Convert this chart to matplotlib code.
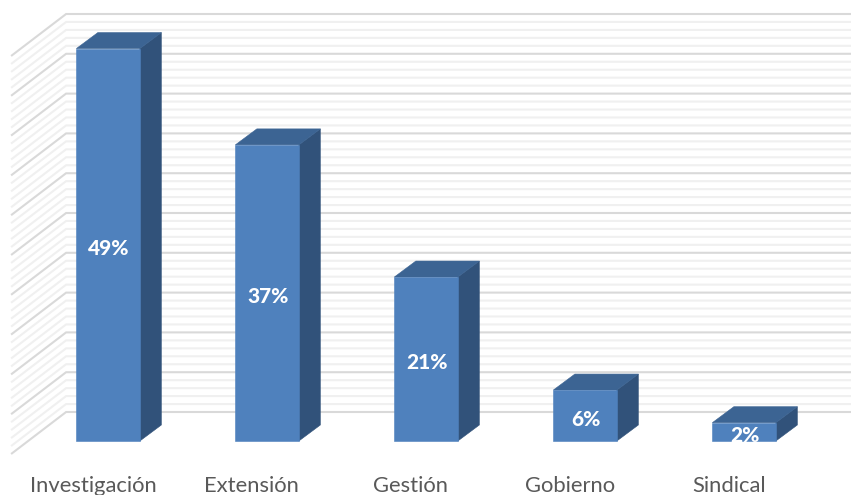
import matplotlib
matplotlib.use("Agg")
import matplotlib.pyplot as plt
from matplotlib.patches import Polygon
import numpy as np

categories = ["Investigación", "Extensión", "Gestión", "Gobierno", "Sindical"]
values = [49.3, 37.2, 20.6, 6.4, 2.3]
labels = ["49%", "37%", "21%", "6%", "2%"]
minor_ticks = list(range(0, 51))
major_step = 5

W, H = 851, 495
fig = plt.figure(figsize=(W / 100, H / 100), dpi=100, facecolor="white")
ax = fig.add_axes([0, 0, 1, 1])
# data scale: x in category units, y in percent
PX_X, PX_Y = 159.0, 7.96
X0, Y0 = 108.1, 441.0
ax.set_xlim(-X0 / PX_X, (W - X0) / PX_X)
ax.set_ylim(-(H - Y0) / PX_Y, Y0 / PX_Y)
ax.axis("off")

bar_w = 63.5 / PX_X
dx, dy = 21.5 / PX_X, 16.0 / PX_Y
wall_back_x, wall_front_x = -42.0 / PX_X, -97.0 / PX_X
wall_back_dy, wall_front_dy = 29.0 / PX_Y, -13.0 / PX_Y

for t in minor_ticks:
    major = t % major_step == 0
    c = "#D9D9D9" if major else "#F0F0F0"
    xs = [wall_front_x, wall_back_x, (W - X0) / PX_X]
    ys = [t + wall_front_dy, t + wall_back_dy, t + wall_back_dy]
    ax.plot(xs, ys, color=c, lw=1.5, solid_joinstyle="miter", solid_capstyle="butt",
            zorder=2 if major else 1)

for i, (v, lab, cat) in enumerate(zip(values, labels, categories)):
    l, r = i - bar_w / 2, i + bar_w / 2
    ax.add_patch(Polygon([(r, 0), (r + dx, dy), (r + dx, v + dy), (r, v)],
                         fc="#31527A", ec="#31527A", lw=0.4, zorder=3))
    ax.add_patch(Polygon([(l, v), (l + dx, v + dy), (r + dx, v + dy), (r, v)],
                         fc="#3C6493", ec="#3C6493", lw=0.4, zorder=3))
    ax.add_patch(Polygon([(l, 0), (r, 0), (r, v), (l, v)],
                         fc="#4F81BD", ec="#4F81BD", lw=0.4, zorder=4))
    ax.text(i + 0.5 / PX_X, v / 2 - 0.45, lab, ha="center", va="center", color="white",
            fontsize=15, fontweight=900, family="Lato", zorder=5)
    ax.text(i - 15.2 / PX_X, -45 / PX_Y, cat, ha="center", va="center", color="#595959",
            fontsize=15.8, family="Lato", zorder=5)

fig.savefig("out.png", dpi=100, facecolor="white")
